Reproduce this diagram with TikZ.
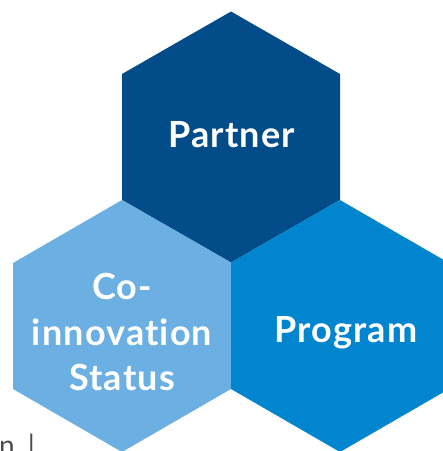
\documentclass[tikz,border=0pt]{standalone}
\usepackage{fontspec}
\setmainfont{Lato}
\newfontfamily\hexfont[LetterSpace=3.2,Ligatures=NoCommon,BoldFont={Lato Bold}]{Lato}
\definecolor{hexdark}{HTML}{024C8A}
\definecolor{hexlight}{HTML}{6CB0E3}
\definecolor{hexmid}{HTML}{0085CE}
\tikzset{hexlabel/.style={text=white,font=\hexfont\fontsize{36}{45.5}\selectfont\bfseries,align=center,inner sep=0pt}}
\begin{document}
\begin{tikzpicture}[x=1pt,y=-1pt]
\useasboundingbox (0,0) rectangle (443,451);
\fill[white] (0,0) rectangle (443,451);
\fill[hexdark] (231,11.5) -- (340,74) -- (340,200) -- (231,262.5) -- (122,200) -- (122,74) -- cycle;
\fill[hexlight] (122,200) -- (231,262.5) -- (231,389) -- (122,452) -- (13,389) -- (13,263) -- cycle;
\fill[hexmid] (340,200) -- (449,263) -- (449,389) -- (340,452) -- (231,389) -- (231,262.5) -- cycle;
\node[hexlabel] (partner) at (231.5,135) {Partner};
\node[hexlabel] (status) at (122,332) {Co-\\innovation\\Status};
\node[hexlabel] (program) at (346,333) {Program};
\node[text=black!70,font=\fontsize{28}{32}\selectfont,anchor=base west,inner sep=0pt] (cut) at (-1,455) {n\hspace{6pt} |};
\end{tikzpicture}
\end{document}
